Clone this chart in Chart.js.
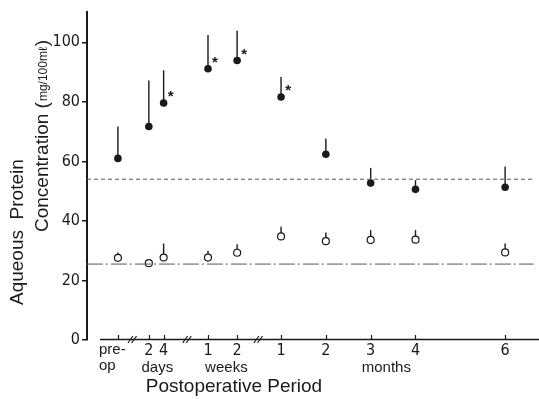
<!DOCTYPE html>
<html>
<head>
<meta charset="utf-8">
<script src="https://cdn.jsdelivr.net/npm/chart.js@4.4.1/dist/chart.umd.min.js"></script>
<style>
  html, body { margin: 0; padding: 0; background: #fff; }
  #chart { display: block; }
</style>
</head>
<body>
<canvas id="chart" width="539" height="399"></canvas>
<script>
// Periods on the (broken) time axis
const periods = ['pre-op', '2 days', '4 days', '1 week', '2 weeks', '1 month', '2 months', '3 months', '4 months', '6 months'];
const tickLabels = ['', '2', '4', '1', '2', '1', '2', '3', '4', '6'];
// slot of each period along the axis (months spacing = 1 unit)
const slotPos = [0.69, 1.38, 1.71, 2.70, 3.35, 4.33, 5.33, 6.33, 7.33, 9.33];
const breakPos = [1.01, 2.23, 3.82];
const groupLabels = ['days', 'weeks', 'months'];
const groupPos = [1.57, 3.11, 6.68];

// Aqueous protein (mg/100ml): mean and top of SD bar
const treatedMean = [61.0, 71.7, 79.6, 91.1, 93.9, 81.6, 62.4, 52.7, 50.6, 51.3];
const treatedUpper = [71.7, 87.2, 90.6, 102.4, 103.9, 88.3, 67.7, 57.8, 53.7, 58.3];
const treatedSignif = [false, false, true, true, true, true, false, false, false, false];
const controlMean = [27.6, 25.8, 27.7, 27.7, 29.3, 34.8, 33.2, 33.6, 33.7, 29.4];
const controlUpper = [29.4, 26.9, 32.4, 30.0, 32.2, 38.0, 36.1, 36.9, 36.9, 32.4];

// reference levels
const upperRef = 54;
const lowerRef = 25.5;

const yTicks = [0, 20, 40, 60, 80, 100];
const X_MAX = 9.97;
const Y_MAX = 110.3;

const INK = '#1a1a1a';
const narrowFont = '"Liberation Sans Narrow", "DejaVu Sans Condensed", "Liberation Sans", Arial, sans-serif';
const sansFont = '"Liberation Sans", Arial, sans-serif';

const toPoints = (vals) => vals.map((v, i) => ({ x: slotPos[i], y: v }));

// draws the one-sided SD bars under the points, asterisks over them
const errorBars = {
    id: 'errorBars',
    beforeDatasetsDraw(chart) {
        const { ctx, scales: { x, y } } = chart;
        ctx.save();
        ctx.strokeStyle = INK;
        ctx.lineWidth = 1.4;
        const bars = (means, uppers) => {
            means.forEach((m, i) => {
                const px = x.getPixelForValue(slotPos[i]);
                ctx.beginPath();
                ctx.moveTo(px, y.getPixelForValue(m));
                ctx.lineTo(px, y.getPixelForValue(uppers[i]));
                ctx.stroke();
            });
        };
        bars(treatedMean, treatedUpper);
        bars(controlMean, controlUpper);
        ctx.restore();
    },
    afterDatasetsDraw(chart) {
        const { ctx, scales: { x, y } } = chart;
        ctx.save();
        ctx.fillStyle = INK;
        ctx.font = 'bold 15px ' + sansFont;
        ctx.textAlign = 'center';
        ctx.textBaseline = 'middle';
        treatedMean.forEach((m, i) => {
            if (!treatedSignif[i]) return;
            ctx.fillText('*', x.getPixelForValue(slotPos[i]) + 7, y.getPixelForValue(m) - 6);
        });
        ctx.restore();
    }
};

// broken x axis, its labels and the y axis title
const axisDecor = {
    id: 'axisDecor',
    afterDraw(chart) {
        const { ctx, chartArea, scales: { x } } = chart;
        const base = chartArea.bottom - 0.5;
        ctx.save();
        ctx.strokeStyle = INK;
        ctx.fillStyle = INK;

        // axis line
        ctx.lineWidth = 1.6;
        ctx.beginPath();
        ctx.moveTo(100, base);
        ctx.lineTo(chart.width, base);
        ctx.stroke();

        // upward ticks
        ctx.lineWidth = 1.2;
        slotPos.forEach(p => {
            const px = Math.round(x.getPixelForValue(p)) + 0.5;
            ctx.beginPath();
            ctx.moveTo(px, base);
            ctx.lineTo(px, base - 4.5);
            ctx.stroke();
        });

        // break marks
        breakPos.forEach(p => {
            const px = x.getPixelForValue(p);
            [-1.8, 1.8].forEach(off => {
                ctx.beginPath();
                ctx.moveTo(px + off - 2.5, base + 3.5);
                ctx.lineTo(px + off + 2.5, base - 3.5);
                ctx.stroke();
            });
        });

        // tick numbers
        ctx.font = '16px ' + narrowFont;
        ctx.textAlign = 'center';
        ctx.textBaseline = 'middle';
        tickLabels.forEach((t, i) => {
            if (t) ctx.fillText(t, x.getPixelForValue(slotPos[i]), 351);
        });
        ctx.font = '15px ' + sansFont;
        ctx.textAlign = 'left';
        ctx.fillText('pre-', 99, 350);
        ctx.fillText('op', 99, 366);
        ctx.textAlign = 'center';
        groupLabels.forEach((g, i) => {
            ctx.fillText(g, x.getPixelForValue(groupPos[i]), 368);
        });

        // axis titles
        ctx.font = '19px ' + sansFont;
        ctx.fillText('Postoperative Period', 234, 387);

        ctx.save();
        ctx.translate(18, 305);
        ctx.rotate(-Math.PI / 2);
        ctx.textAlign = 'left';
        ctx.fillText('Aqueous  Protein', 0, 0);
        ctx.restore();

        ctx.save();
        ctx.translate(43, 232);
        ctx.rotate(-Math.PI / 2);
        ctx.textAlign = 'left';
        ctx.font = '19px ' + sansFont;
        let w = 0;
        ctx.fillText('Concentration (', 0, 0);
        w += ctx.measureText('Concentration (').width;
        ctx.font = '12px ' + sansFont;
        ctx.fillText('mg/100mℓ', w + 1, 1);
        w += ctx.measureText('mg/100mℓ').width + 2;
        ctx.font = '19px ' + sansFont;
        ctx.fillText(')', w, 0);
        ctx.restore();

        ctx.restore();
    }
};

new Chart(document.getElementById('chart'), {
    type: 'scatter',
    data: {
        datasets: [
            {
                type: 'line',
                label: 'upper reference',
                data: [{ x: 0, y: upperRef }, { x: X_MAX, y: upperRef }],
                borderColor: '#555',
                borderWidth: 1,
                borderDash: [4, 3],
                pointRadius: 0
            },
            {
                type: 'line',
                label: 'lower reference',
                data: [{ x: 0, y: lowerRef }, { x: X_MAX, y: lowerRef }],
                borderColor: '#555',
                borderWidth: 1,
                borderDash: [16, 3, 2, 3],
                pointRadius: 0
            },
            {
                label: 'treated',
                data: toPoints(treatedMean),
                backgroundColor: INK,
                borderColor: INK,
                pointRadius: 3.8,
                borderWidth: 0
            },
            {
                label: 'control',
                data: toPoints(controlMean),
                backgroundColor: '#fff',
                borderColor: INK,
                pointRadius: 3.5,
                borderWidth: 1.2
            }
        ]
    },
    options: {
        responsive: false,
        animation: false,
        devicePixelRatio: 1,
        layout: { padding: { top: 9, right: 0, bottom: 59, left: 0 } },
        plugins: {
            legend: { display: false },
            tooltip: { enabled: false }
        },
        scales: {
            x: {
                type: 'linear',
                display: false,
                min: 0,
                max: X_MAX
            },
            y: {
                min: 0,
                max: Y_MAX,
                afterFit(scale) { scale.width = 87; },
                afterBuildTicks(scale) { scale.ticks = yTicks.map(v => ({ value: v })); },
                ticks: {
                    color: INK,
                    padding: 2,
                    font: { family: narrowFont, size: 16 }
                },
                grid: {
                    drawOnChartArea: false,
                    drawTicks: true,
                    tickLength: 5,
                    color: INK,
                    lineWidth: 1.5
                },
                border: { color: INK, width: 2 }
            }
        }
    },
    plugins: [errorBars, axisDecor]
});
</script>
</body>
</html>
